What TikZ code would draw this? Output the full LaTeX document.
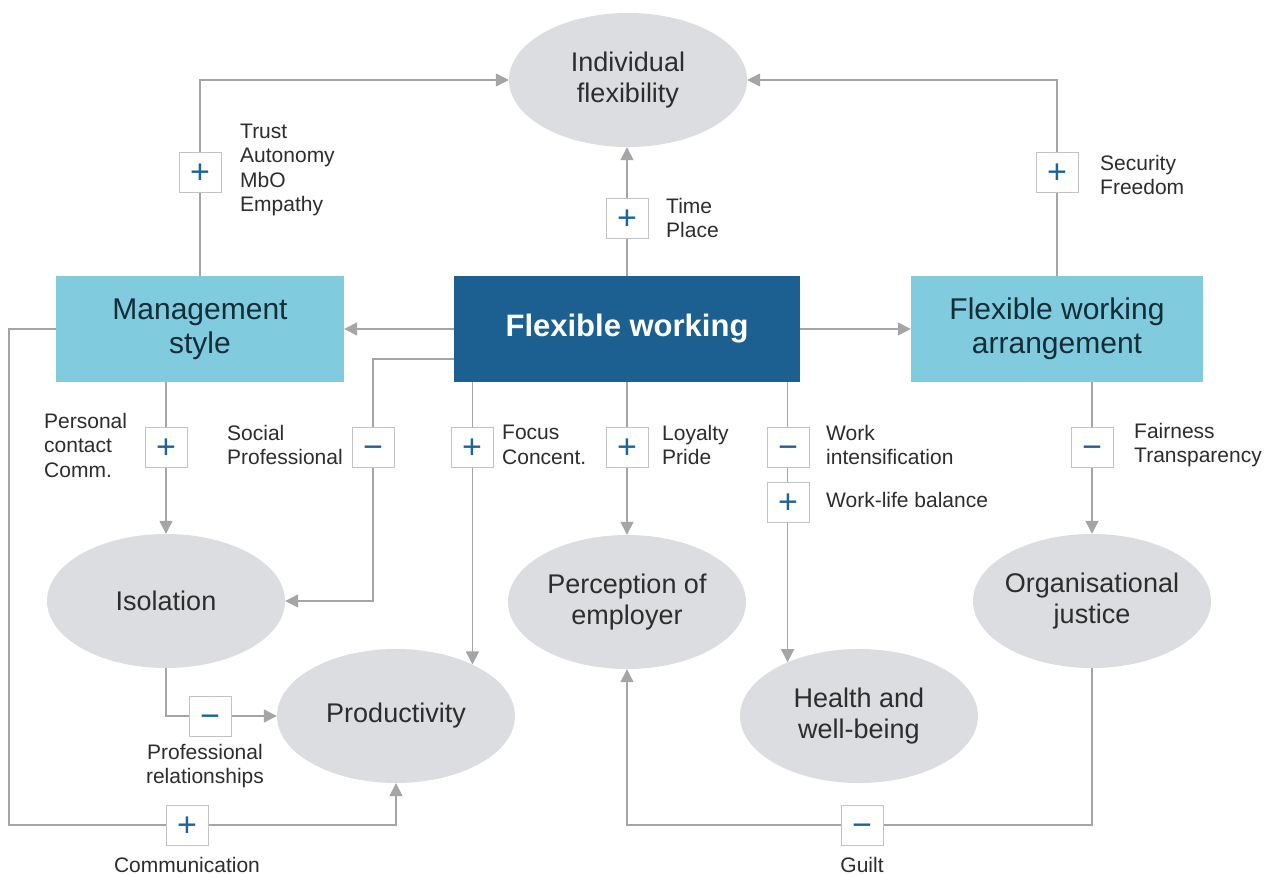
\documentclass[tikz,border=0pt]{standalone}
\usepackage{fontspec}
\setmainfont{Liberation Sans}
\usetikzlibrary{arrows.meta,shapes.geometric,calc}
\definecolor{lightbox}{RGB}{128,203,222}
\definecolor{darkbox}{RGB}{27,96,145}
\definecolor{ellfill}{RGB}{220,221,224}
\definecolor{linegray}{RGB}{165,165,165}
\definecolor{signblue}{RGB}{30,100,150}
\definecolor{txt}{RGB}{45,45,45}
\definecolor{boxtxt}{RGB}{20,45,55}
\definecolor{signborder}{RGB}{195,195,195}
\begin{document}
\begin{tikzpicture}[x=1pt,y=-1pt,
  ell/.style={ellipse, fill=ellfill, minimum width=238pt, minimum height=134pt, inner xsep=-20pt, inner ysep=0pt, align=center, text=txt, font=\fontsize{27}{31}\selectfont},
  lbox/.style={rectangle, fill=lightbox, minimum height=106pt, inner sep=0pt, align=center, text=boxtxt, font=\fontsize{30}{34}\selectfont},
  dbox/.style={rectangle, fill=darkbox, minimum height=106pt, inner sep=0pt, align=center, text=white, font=\bfseries\fontsize{31}{35}\selectfont},
  con/.style={draw=linegray, line width=1.4pt},
  arr/.style={con, -{Triangle[length=13pt,width=13pt]}},
  sgn/.style={rectangle, draw=signborder, fill=white, line width=1pt, minimum width=42pt, minimum height=40pt, inner sep=0pt, text height=23.4pt, text depth=0pt, text=signblue, font=\fontsize{34}{34}\selectfont},
  lbl/.style={align=left, anchor=west, text=txt, inner sep=0pt, font=\fontsize{21}{24.5}\selectfont},
  clbl/.style={align=center, text=txt, inner sep=0pt, font=\fontsize{21}{24}\selectfont}
]
\fill[white] (0,0) rectangle (1272,875);
\useasboundingbox (0,0) rectangle (1272,875);

% main nodes
\node[ell] (indiv) at (628,80) {Individual\\flexibility};
\node[lbox, minimum width=288pt] (mgmt) at (200,329) {Management\\style};
\node[dbox, minimum width=346pt] (fw) at (627,329) {Flexible working};
\node[lbox, minimum width=292pt] (fwa) at (1057,329) {Flexible working\\arrangement};
\node[ell] (iso) at (166,601) {Isolation};
\node[ell] (prod) at (396,716) {Productivity};
\node[ell] (perc) at (627,602) {Perception of\\employer};
\node[ell] (health) at (859,716) {Health and\\well-being};
\node[ell] (org) at (1092,601) {Organisational\\justice};

\coordinate (socx) at (373,0);
\coordinate (lc) at (9,825);

% connectors
\draw[arr] (mgmt.north) |- (indiv.west);
\draw[arr] (fwa.north) |- (indiv.east);
\draw[arr] (fw.north) -- (fw.north |- indiv.south);
\draw[arr] (fw.west) -- (mgmt.east);
\draw[arr] (fw.east) -- (fwa.west);
\draw[arr] (iso.north |- mgmt.south) -- (iso.north);
\draw[arr] ([yshift=-30pt]fw.west) -| (iso.east -| socx) -- (iso.east);
\draw[arr] (prod.34 |- fw.south) -- (prod.34);
\draw[arr] (fw.south) -- (perc.north);
\draw[arr] (health.143 |- fw.south) -- (health.143);
\draw[arr] (fwa.south -| org.north) -- (org.north);
\draw[arr] (iso.south) |- (prod.west);
\draw[arr] (mgmt.west) -| (lc) -| (prod.south);
\draw[arr] (org.south) |- (perc.south |- lc) -- (perc.south);

% sign boxes
\node[sgn] (s1) at (200,172) {+};
\node[sgn] (s2) at (1057,172) {+};
\node[sgn] (s3) at (627,218) {+};
\node[sgn] (s4) at (166,447) {+};
\node[sgn] (s5) at (373,447) {−};
\node[sgn] (s6) at (472,447) {+};
\node[sgn] (s7) at (627,447) {+};
\node[sgn] (s8) at (788,447) {−};
\node[sgn] (s9) at (788,502) {+};
\node[sgn] (s10) at (1092,447) {−};
\node[sgn] (s11) at (210,716) {−};
\node[sgn] (s12) at (187,825) {+};
\node[sgn] (s13) at (862,825) {−};

% labels
\node[lbl] (l1) at (240,170) {Trust\\Autonomy\\MbO\\Empathy};
\node[lbl] (l2) at (666,218) {Time\\Place};
\node[lbl] (l3) at (1100,175) {Security\\Freedom};
\node[lbl] (l4) at (44,445) {Personal\\contact\\Comm.};
\node[lbl] (l5) at (227,445) {Social\\Professional};
\node[lbl] (l6) at (502,445) {Focus\\Concent.};
\node[lbl] (l7) at (662,445) {Loyalty\\Pride};
\node[lbl] (l8) at (826,445) {Work\\intensification};
\node[lbl] (l9) at (826,500) {Work-life balance};
\node[lbl] (l10) at (1134,445) {Fairness\\Transparency};
\node[clbl] (l11) at (205,766) {Professional\\relationships};
\node[clbl] (l12) at (187,865) {Communication};
\node[clbl] (l13) at (862,865) {Guilt};
\end{tikzpicture}
\end{document}
